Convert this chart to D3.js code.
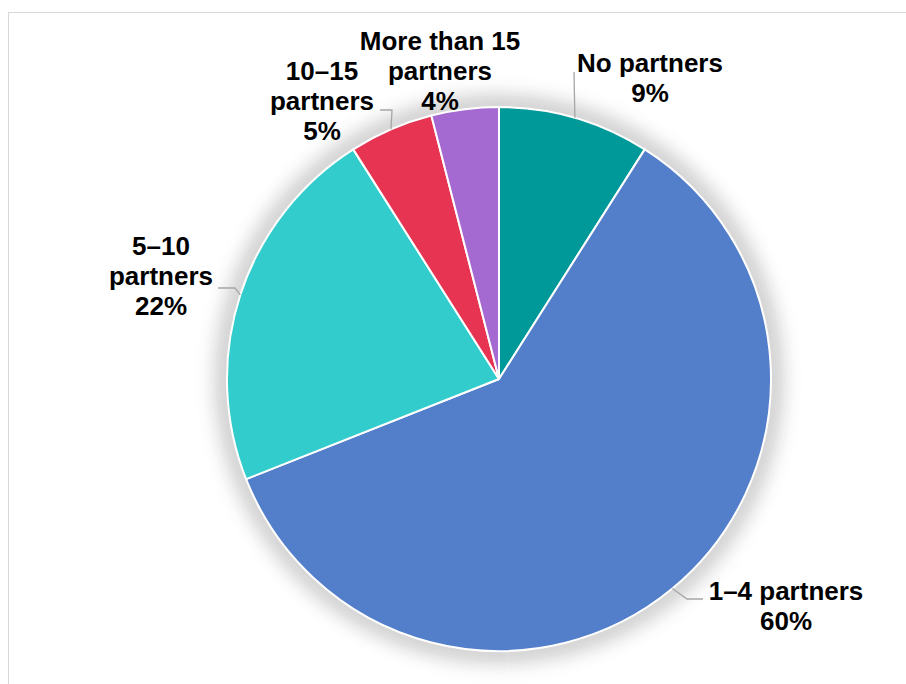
<!DOCTYPE html>
<html lang="en">
<head>
    <meta charset="UTF-8">
    <title>Partners</title>
    <script src="https://d3js.org/d3.v7.min.js"></script>
    <style>
        body { margin: 0; background: #fff; }
        text { font-family: "Liberation Sans", Arial, sans-serif; font-weight: bold; }
    </style>
</head>
<body>

<div id="my_dataviz"></div>

<script>
    // Slices, clockwise from 12 o'clock
    var categories = ["No partners", "1\u20134 partners", "5\u201310 partners", "10\u201315 partners", "More than 15 partners"]
    var values = [9, 60, 22, 5, 4]
    var colors = ["#00999a", "#537eca", "#33cccc", "#e63452", "#a569d2"]
    var labelLines = [
        ["No partners", "9%"],
        ["1\u20134 partners", "60%"],
        ["5\u201310", "partners", "22%"],
        ["10\u201315", "partners", "5%"],
        ["More than 15", "partners", "4%"]
    ]

    // Label layout: text anchor (first baseline) and leader elbow / end points
    var labelLayout = [
        {x: 650, y: 72, elbow: null, end: [574, 72]},
        {x: 786, y: 600, elbow: [687, 599], end: [703, 599]},
        {x: 161, y: 255, elbow: [235, 288], end: [218, 288]},
        {x: 322, y: 80, elbow: [392, 110], end: [380, 110]},
        {x: 440, y: 50, elbow: null, end: null}
    ]

    var width = 906, height = 684
    var cx = 499, cy = 379, radius = 272

    var svg = d3.select("#my_dataviz").append("svg")
        .attr("width", width)
        .attr("height", height)

    // chart frame (runs off the right and bottom edges)
    svg.append("rect")
        .attr("x", 8.5).attr("y", 12.5)
        .attr("width", width + 20).attr("height", height + 20)
        .attr("fill", "#fff")
        .attr("stroke", "#d9d9d9")
        .attr("stroke-width", 1)

    var g = svg.append("g")
        .attr("transform", "translate(" + cx + "," + cy + ")")

    // soft halo behind the pie, drawn as thin fading rings
    g.selectAll("circle.halo")
        .data(d3.range(0, 40, 2))
        .enter().append("circle")
        .attr("class", "halo")
        .attr("r", function(d) { return radius + d + 1 })
        .attr("fill", "none")
        .attr("stroke", "#000")
        .attr("stroke-width", 2)
        .attr("stroke-opacity", function(d) { return 0.16 * Math.exp(-Math.pow(d / 16, 2)) })

    var pie = d3.pie().sort(null).value(function(d) { return d })
    var arcs = pie(values)
    var arc = d3.arc().innerRadius(0).outerRadius(radius)

    g.selectAll("path.slice")
        .data(arcs)
        .enter().append("path")
        .attr("class", "slice")
        .attr("d", arc)
        .attr("fill", function(d, i) { return colors[i] })
        .attr("stroke", "#fff")
        .attr("stroke-width", 2)
        .attr("stroke-linejoin", "round")

    // leader lines: from slice mid-angle on the rim to the label
    arcs.forEach(function(d, i) {
        var lay = labelLayout[i]
        if (!lay.end) return
        var a = (d.startAngle + d.endAngle) / 2
        var p0 = [cx + radius * Math.sin(a), cy - radius * Math.cos(a)]
        var pts = [p0]
        if (lay.elbow) pts.push(lay.elbow)
        pts.push(lay.end)
        svg.append("path")
            .attr("d", d3.line()(pts))
            .attr("fill", "none")
            .attr("stroke", "#a6a6a6")
            .attr("stroke-width", 1.3)
    })

    // labels
    labelLines.forEach(function(lines, i) {
        var lay = labelLayout[i]
        var t = svg.append("text")
            .attr("x", lay.x)
            .attr("y", lay.y)
            .attr("text-anchor", "middle")
            .attr("font-size", 26)
            .attr("fill", "#000")
        lines.forEach(function(line, j) {
            t.append("tspan")
                .attr("x", lay.x)
                .attr("dy", j === 0 ? 0 : 30)
                .text(line)
        })
    })
</script>

</body>
</html>
